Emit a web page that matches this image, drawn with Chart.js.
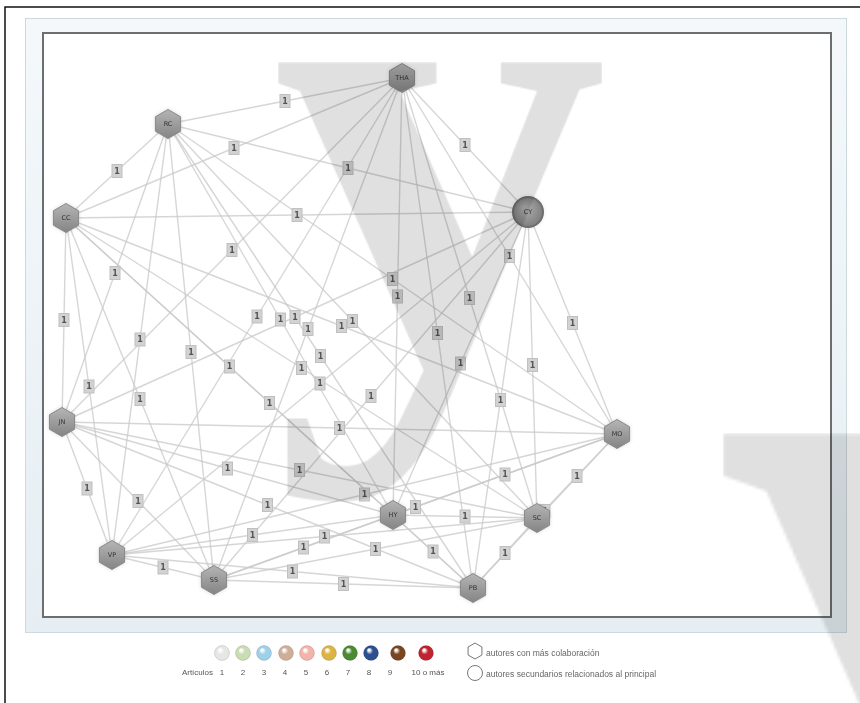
<!DOCTYPE html>
<html>
<head>
<meta charset="utf-8">
<script src="https://cdn.jsdelivr.net/npm/chart.js@4.4.0/dist/chart.umd.min.js"></script>
<style>
  html, body { margin: 0; padding: 0; background: #fff; }
  #wrap { position: relative; width: 860px; height: 703px; }
</style>
</head>
<body>
<div id="wrap"><canvas id="net" width="860" height="703"></canvas></div>
<script>
// authors (nodes)
const nodeNames = ['THA', 'RC', 'CC', 'CY', 'JN', 'MO', 'HY', 'SC', 'VP', 'SS', 'PB'];
const nodeX = [402, 168, 66, 528, 62, 617, 393, 537, 112, 214, 473];
const nodeY = [78, 124, 218, 212, 422, 434, 515, 518, 555, 580, 588];
const nodeKind = ['hex', 'hex', 'hex', 'circle', 'hex', 'hex', 'hex', 'hex', 'hex', 'hex', 'hex'];

// collaborations: [from, to], every one labelled with 1 article
const edges = [
  [0, 1], [0, 2], [0, 3], [0, 4], [0, 5], [0, 6], [0, 7], [0, 8], [0, 9], [0, 10],
  [1, 2], [1, 3], [1, 4], [1, 5], [1, 6], [1, 7], [1, 8], [1, 9], [1, 10],
  [2, 3], [2, 4], [2, 5], [2, 6], [2, 7], [2, 8], [2, 9], [2, 10],
  [3, 4], [3, 5], [3, 6], [3, 7], [3, 8], [3, 9], [3, 10],
  [4, 5], [4, 6], [4, 7], [4, 8], [4, 9], [4, 10],
  [5, 6], [5, 7], [5, 8], [5, 9], [5, 10],
  [6, 7], [6, 8], [6, 9], [6, 10],
  [7, 8], [7, 9], [7, 10],
  [8, 9], [8, 10],
  [9, 10]
];
const edgeArticles = [
  1, 1, 1, 1, 1, 1, 1, 1, 1, 1,
  1, 1, 1, 1, 1, 1, 1, 1, 1,
  1, 1, 1, 1, 1, 1, 1, 1,
  1, 1, 1, 1, 1, 1, 1,
  1, 1, 1, 1, 1, 1,
  1, 1, 1, 1, 1,
  1, 1, 1, 1,
  1, 1, 1,
  1, 1,
  1
];

// legend
const legendLabels = ['1', '2', '3', '4', '5', '6', '7', '8', '9', '10 o más'];
const legendColors = ['#e6e6e6', '#c9dcb2', '#9fd0ea', '#cfae98', '#f2b3aa', '#dcb443', '#4b8a33', '#2c4f90', '#7a4621', '#c1222f'];
const legendTitle = 'Artículos';
const shapeLegend = ['autores con más colaboración', 'autores secundarios relacionados al principal'];

const edgeDatasets = edges.map((e, i) => ({
  type: 'line',
  label: nodeNames[e[0]] + '-' + nodeNames[e[1]],
  data: [{ x: nodeX[e[0]], y: nodeY[e[0]] }, { x: nodeX[e[1]], y: nodeY[e[1]] }],
  borderColor: 'rgba(200,200,200,0.75)',
  borderWidth: 1.4,
  pointRadius: 0,
  articles: edgeArticles[i]
}));

const nodeDataset = {
  type: 'scatter',
  label: 'autores',
  data: nodeNames.map((n, i) => ({ x: nodeX[i], y: nodeY[i] })),
  pointRadius: 0
};

function hexPath(ctx, x, y, r) {
  ctx.beginPath();
  for (let k = 0; k < 6; k++) {
    const a = Math.PI / 2 + k * Math.PI / 3;
    const px = x + r * Math.cos(a), py = y - r * Math.sin(a);
    if (k === 0) ctx.moveTo(px, py); else ctx.lineTo(px, py);
  }
  ctx.closePath();
}

// render a glyph off screen, find its ink box, and stretch it into a box
let glyphCache = null;
function glyphCanvas() {
  if (glyphCache) return glyphCache;
  const c = document.createElement('canvas');
  c.width = 700; c.height = 700;
  const g = c.getContext('2d');
  g.font = 'bold 420px "Liberation Serif", "DejaVu Serif", serif';
  g.fillStyle = '#000';
  g.textBaseline = 'alphabetic';
  g.fillText('y', 150, 450);
  const img = g.getImageData(0, 0, 700, 700).data;
  let x0 = 700, y0 = 700, x1 = 0, y1 = 0;
  for (let y = 0; y < 700; y++) {
    for (let x = 0; x < 700; x++) {
      if (img[(y * 700 + x) * 4 + 3] > 40) {
        if (x < x0) x0 = x; if (x > x1) x1 = x;
        if (y < y0) y0 = y; if (y > y1) y1 = y;
      }
    }
  }
  glyphCache = { c, x0, y0, w: x1 - x0 + 1, h: y1 - y0 + 1 };
  return glyphCache;
}
function drawGlyph(ctx, left, top, w, h) {
  const gl = glyphCanvas();
  ctx.save();
  ctx.globalAlpha = 0.12;
  ctx.drawImage(gl.c, gl.x0, gl.y0, gl.w, gl.h, left, top, w, h);
  ctx.restore();
}

const framePlugin = {
  id: 'frame',
  beforeDraw(chart) {
    const ctx = chart.ctx;
    ctx.save();
    ctx.fillStyle = '#fff';
    ctx.fillRect(0, 0, chart.width, chart.height);
    // outer black border
    ctx.strokeStyle = '#111';
    ctx.lineWidth = 1.5;
    ctx.beginPath();
    ctx.moveTo(5, 703); ctx.lineTo(5, 7); ctx.lineTo(860, 7);
    ctx.stroke();
    // light panel
    const g = ctx.createLinearGradient(0, 18, 0, 632);
    g.addColorStop(0, '#f4f8fb');
    g.addColorStop(1, '#e6eef3');
    ctx.fillStyle = g;
    ctx.fillRect(25, 18, 821, 614);
    ctx.strokeStyle = '#cdd8df';
    ctx.lineWidth = 1;
    ctx.strokeRect(25.5, 18.5, 821, 614);
    // inner plot frame
    ctx.fillStyle = '#fff';
    ctx.fillRect(43, 33, 788, 584);
    ctx.strokeStyle = '#6b6f72';
    ctx.lineWidth = 2;
    ctx.strokeRect(43, 33, 788, 584);
    ctx.restore();
  },
  afterDatasetsDraw(chart) {
    const ctx = chart.ctx;
    ctx.save();
    // article count boxes at the middle of every edge
    chart.data.datasets.forEach((ds, i) => {
      if (ds.articles === undefined) return;
      const pts = chart.getDatasetMeta(i).data;
      const mx = (pts[0].x + pts[1].x) / 2, my = (pts[0].y + pts[1].y) / 2;
      ctx.fillStyle = '#d2d2d2';
      ctx.fillRect(mx - 5, my - 6.5, 10, 13);
      ctx.strokeStyle = '#c0c0c0';
      ctx.lineWidth = 1;
      ctx.strokeRect(mx - 5, my - 6.5, 10, 13);
      ctx.fillStyle = '#555';
      ctx.font = 'bold 8px "DejaVu Sans", sans-serif';
      ctx.textAlign = 'center';
      ctx.textBaseline = 'middle';
      ctx.fillText(String(ds.articles), mx, my + 0.5);
    });
    // nodes
    const nIdx = chart.data.datasets.length - 1;
    chart.getDatasetMeta(nIdx).data.forEach((p, j) => {
      const x = p.x, y = p.y;
      ctx.save();
      ctx.shadowColor = 'rgba(0,0,0,0.18)';
      ctx.shadowBlur = 4;
      if (nodeKind[j] === 'hex') {
        const g = ctx.createLinearGradient(0, y - 14, 0, y + 14);
        g.addColorStop(0, '#b4b4b4');
        g.addColorStop(1, '#858585');
        hexPath(ctx, x, y, 14.5);
        ctx.fillStyle = g;
        ctx.fill();
        ctx.shadowBlur = 0;
        ctx.strokeStyle = '#8a8a8a';
        ctx.lineWidth = 1;
        ctx.stroke();
      } else {
        const g = ctx.createRadialGradient(x - 3, y - 4, 2, x, y, 16);
        g.addColorStop(0, '#aaaaaa');
        g.addColorStop(1, '#7c7c7c');
        ctx.beginPath();
        ctx.arc(x, y, 15, 0, Math.PI * 2);
        ctx.fillStyle = g;
        ctx.fill();
        ctx.shadowBlur = 0;
        ctx.strokeStyle = '#6e6e6e';
        ctx.lineWidth = 2;
        ctx.stroke();
      }
      ctx.restore();
      ctx.fillStyle = '#333';
      ctx.font = '6.5px "DejaVu Sans", sans-serif';
      ctx.textAlign = 'center';
      ctx.textBaseline = 'middle';
      ctx.fillText(nodeNames[j], x, y);
    });
    ctx.restore();
  },
  afterDraw(chart) {
    const ctx = chart.ctx;
    ctx.save();
    // legend: article colours
    const lx = [222, 243, 264, 286, 307, 329, 350, 371, 398, 426];
    const tx = [222, 243, 264, 285, 306, 327, 348, 369, 390, 428];
    legendColors.forEach((c, i) => {
      const g = ctx.createRadialGradient(lx[i] - 2, 650, 1, lx[i], 653, 8);
      g.addColorStop(0, '#ffffff');
      g.addColorStop(0.35, c);
      g.addColorStop(1, c);
      ctx.beginPath();
      ctx.arc(lx[i], 653, 7.5, 0, Math.PI * 2);
      ctx.fillStyle = g;
      ctx.fill();
      ctx.strokeStyle = 'rgba(0,0,0,0.12)';
      ctx.lineWidth = 1;
      ctx.stroke();
    });
    ctx.fillStyle = '#555';
    ctx.font = '8px "Liberation Sans", Arial, sans-serif';
    ctx.textBaseline = 'middle';
    ctx.textAlign = 'right';
    ctx.fillText(legendTitle, 213, 673);
    ctx.textAlign = 'center';
    legendLabels.forEach((t, i) => ctx.fillText(t, tx[i], 673));
    // legend: shapes
    ctx.strokeStyle = '#777';
    ctx.lineWidth = 1;
    hexPath(ctx, 475, 651, 8);
    ctx.stroke();
    ctx.beginPath();
    ctx.arc(475, 673, 7.5, 0, Math.PI * 2);
    ctx.stroke();
    ctx.textAlign = 'left';
    ctx.fillStyle = '#666';
    ctx.font = '8.5px "Liberation Sans", Arial, sans-serif';
    ctx.fillText(shapeLegend[0], 486, 654);
    ctx.fillText(shapeLegend[1], 486, 675);
    // watermark letters
    drawGlyph(ctx, 278, 62, 324, 440);
    drawGlyph(ctx, 723, 433, 640, 880);
    ctx.restore();
  }
};

new Chart(document.getElementById('net'), {
  data: { datasets: edgeDatasets.concat([nodeDataset]) },
  options: {
    responsive: false,
    animation: false,
    layout: { padding: 0 },
    scales: {
      x: { type: 'linear', min: 0, max: 860, display: false },
      y: { type: 'linear', min: 0, max: 703, reverse: true, display: false }
    },
    plugins: { legend: { display: false }, tooltip: { enabled: false } }
  },
  plugins: [framePlugin]
});
</script>
</body>
</html>
